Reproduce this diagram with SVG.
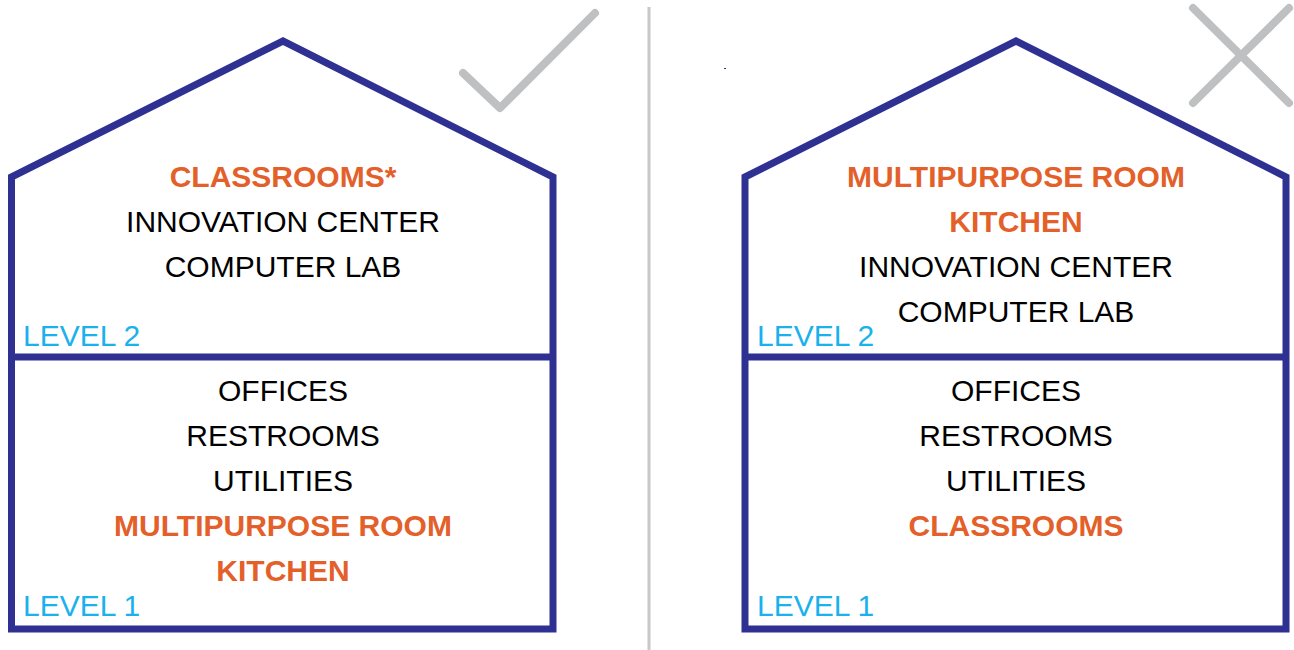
<svg xmlns="http://www.w3.org/2000/svg" width="1294" height="650" viewBox="0 0 1294 650">
<style>
.house{fill:none;stroke:#2e3192;stroke-width:7;stroke-linejoin:miter}
.floor{stroke:#2e3192;stroke-width:7}
.mark{stroke:#bfc0c2;stroke-width:8;stroke-linecap:round;stroke-linejoin:round;fill:none}
text{font-family:"Liberation Sans",Arial,sans-serif;font-size:30px}
.c{text-anchor:middle;fill:#000}
.o{text-anchor:middle;fill:#e4602a;font-weight:bold}
.lv{fill:#1bb1ec}
</style>
<rect width="1294" height="650" fill="#fff"/>
<line x1="649" y1="7" x2="649" y2="650" stroke="#c8c8c8" stroke-width="3"/>
<g id="left-house">
<path class="house" d="M11.5 177 L283 41 L553 177 L553 629 L11.5 629 Z"/>
<line class="floor" x1="11.5" y1="357" x2="553" y2="357"/>
<text class="o" x="283" y="187">CLASSROOMS*</text>
<text class="c" x="283" y="232">INNOVATION CENTER</text>
<text class="c" x="283" y="277">COMPUTER LAB</text>
<text class="lv" x="23" y="346">LEVEL 2</text>
<text class="c" x="283" y="401">OFFICES</text>
<text class="c" x="283" y="446">RESTROOMS</text>
<text class="c" x="283" y="491">UTILITIES</text>
<text class="o" x="283" y="536">MULTIPURPOSE ROOM</text>
<text class="o" x="283" y="581">KITCHEN</text>
<text class="lv" x="23" y="616">LEVEL 1</text>
</g>
<g id="check">
<path class="mark" d="M463 73 L500 108 L595 13"/>
</g>
<g id="right-house">
<path class="house" d="M745 177 L1016 41 L1286 177 L1286 629 L745 629 Z"/>
<line class="floor" x1="745" y1="357" x2="1286" y2="357"/>
<text class="o" x="1016" y="187">MULTIPURPOSE ROOM</text>
<text class="o" x="1016" y="232">KITCHEN</text>
<text class="c" x="1016" y="277">INNOVATION CENTER</text>
<text class="c" x="1016" y="322">COMPUTER LAB</text>
<text class="lv" x="757" y="346">LEVEL 2</text>
<text class="c" x="1016" y="401">OFFICES</text>
<text class="c" x="1016" y="446">RESTROOMS</text>
<text class="c" x="1016" y="491">UTILITIES</text>
<text class="o" x="1016" y="536">CLASSROOMS</text>
<text class="lv" x="757" y="616">LEVEL 1</text>
</g>
<g id="cross">
<path class="mark" d="M1193 8 L1289 103 M1289 8 L1193 103"/>
</g>
<rect x="724" y="68" width="2" height="1" fill="#2e3192"/>
</svg>
